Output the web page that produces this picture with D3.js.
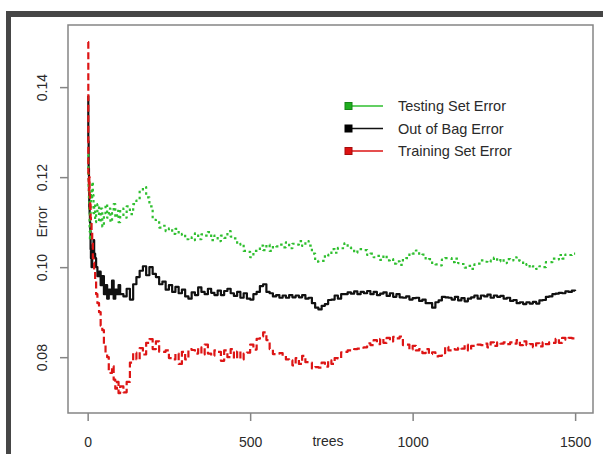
<!DOCTYPE html>
<html>
<head>
<meta charset="utf-8">
<script src="https://cdn.jsdelivr.net/npm/d3@7/dist/d3.min.js"></script>
<style>
  html, body { margin: 0; padding: 0; background: #fff; }
  svg { display: block; }
  text { font-family: "Liberation Sans", Arial, sans-serif; fill: #2a2a2a; }
</style>
</head>
<body>
<svg id="chart" width="603" height="454"></svg>
<script>
// ---- data ----
const treesEarly = [1,2,3,4,5,6,7,8,9,10,12,14,16,18,20,23,26,30,35,40,45,50,55,60,65,70,75,80,85,90,95,100];
const treesLate = d3.range(110, 1501, 10);
const trees = treesEarly.concat(treesLate);

const xTicks = [0, 500, 1000, 1500];
const yTicks = [0.08, 0.10, 0.12, 0.14];
const yTickLabels = ["0.08", "0.10", "0.12", "0.14"];
const seriesNames = ["Testing Set Error", "Out of Bag Error", "Training Set Error"];

const oobError = [
  0.138,0.128,0.122,0.117,0.113,0.112,0.110,0.108,0.104,0.102,0.100,0.103,0.105,0.106,0.103,0.102,0.100,0.098,0.099,0.096,0.098,0.094,0.096,0.093,0.095,0.094,0.097,0.093,0.095,0.094,0.096,0.094,
  0.0935,0.0952,0.0928,0.0962,0.0978,0.0992,0.1002,0.0982,0.1000,0.0985,
  0.0978,0.0962,0.0968,0.0950,0.0960,0.0945,0.0956,0.0942,0.0950,0.0935,
  0.0930,0.0944,0.0938,0.0955,0.0945,0.0940,0.0952,0.0943,0.0938,0.0948,
  0.0938,0.0947,0.0952,0.0942,0.0936,0.0945,0.0932,0.0942,0.0930,0.0928,
  0.0940,0.0945,0.0958,0.0962,0.0945,0.0942,0.0935,0.0938,0.0932,0.0937,
  0.0932,0.0938,0.0933,0.0937,0.0933,0.0938,0.0930,0.0932,0.0920,0.0910,
  0.0906,0.0914,0.0918,0.0927,0.0928,0.0937,0.0930,0.0940,0.0940,0.0944,
  0.0941,0.0946,0.0940,0.0945,0.0942,0.0947,0.0940,0.0945,0.0938,0.0941,
  0.0944,0.0936,0.0942,0.0934,0.0940,0.0933,0.0932,0.0935,0.0928,0.0931,
  0.0932,0.0925,0.0928,0.0920,0.0920,0.0910,0.0922,0.0926,0.0934,0.0933,
  0.0932,0.0928,0.0934,0.0926,0.0931,0.0924,0.0930,0.0933,0.0937,0.0930,
  0.0937,0.0935,0.0939,0.0932,0.0937,0.0934,0.0936,0.0930,0.0932,0.0925,
  0.0927,0.0920,0.0922,0.0918,0.0922,0.0919,0.0923,0.0919,0.0926,0.0927,
  0.0934,0.0935,0.0940,0.0941,0.0943,0.0942,0.0946,0.0945,0.0948,0.0947
];

const testError = [
  0.125,0.120,0.118,0.115,0.112,0.108,0.106,0.110,0.114,0.117,0.115,0.119,0.116,0.112,0.114,0.110,0.112,0.114,0.110,0.113,0.109,0.112,0.114,0.111,0.113,0.110,0.112,0.114,0.111,0.1125,0.110,0.113,
  0.1110,0.1135,0.1118,0.1140,0.1148,0.1170,0.1178,0.1155,0.1135,0.1105,
  0.1102,0.1088,0.1092,0.1080,0.1086,0.1074,0.1085,0.1072,0.1074,0.1062,
  0.1066,0.1060,0.1075,0.1062,0.1073,0.1070,0.1078,0.1060,0.1070,0.1058,
  0.1070,0.1065,0.1080,0.1068,0.1064,0.1050,0.1052,0.1036,0.1034,0.1022,
  0.1036,0.1036,0.1048,0.1038,0.1050,0.1036,0.1047,0.1046,0.1050,0.1044,
  0.1055,0.1042,0.1052,0.1050,0.1058,0.1047,0.1058,0.1048,0.1030,0.1012,
  0.1014,0.1014,0.1028,0.1026,0.1040,0.1032,0.1043,0.1042,0.1053,0.1044,
  0.1042,0.1032,0.1040,0.1040,0.1038,0.1027,0.1030,0.1022,0.1025,0.1016,
  0.1026,0.1015,0.1018,0.1008,0.1013,0.1005,0.1018,0.1020,0.1031,0.1030,
  0.1037,0.1027,0.1028,0.1017,0.1018,0.1007,0.1006,0.1004,0.1017,0.1020,
  0.1020,0.1011,0.1019,0.1009,0.1007,0.0999,0.1003,0.0996,0.1006,0.1008,
  0.1015,0.1012,0.1015,0.1013,0.1021,0.1013,0.1018,0.1009,0.1018,0.1015,
  0.1022,0.1015,0.1014,0.1005,0.1007,0.0999,0.1002,0.0996,0.1002,0.1000,
  0.1011,0.1011,0.1019,0.1017,0.1027,0.1019,0.1028,0.1027,0.1030,0.1030
];

const trainError = [
  0.150,0.121,0.119,0.117,0.120,0.116,0.113,0.114,0.111,0.110,0.108,0.106,0.102,0.101,0.099,0.097,0.094,0.092,0.090,0.087,0.086,0.083,0.081,0.080,0.077,0.0765,0.078,0.075,0.073,0.0745,0.072,0.0735,
  0.0722,0.0745,0.0788,0.0810,0.0795,0.0820,0.0806,0.0832,0.0840,0.0818,
  0.0835,0.0812,0.0812,0.0815,0.0798,0.0795,0.0808,0.0785,0.0812,0.0795,
  0.0818,0.0816,0.0808,0.0822,0.0806,0.0828,0.0808,0.0803,0.0815,0.0812,
  0.0792,0.0815,0.0800,0.0818,0.0797,0.0813,0.0795,0.0808,0.0810,0.0828,
  0.0817,0.0841,0.0846,0.0855,0.0838,0.0818,0.0807,0.0808,0.0809,0.0803,
  0.0795,0.0793,0.0782,0.0798,0.0785,0.0803,0.0789,0.0788,0.0775,0.0778,
  0.0777,0.0788,0.0779,0.0793,0.0785,0.0798,0.0797,0.0811,0.0812,0.0815,
  0.0815,0.0818,0.0819,0.0821,0.0822,0.0831,0.0827,0.0838,0.0829,0.0841,
  0.0832,0.0843,0.0835,0.0845,0.0842,0.0846,0.0827,0.0828,0.0817,0.0825,
  0.0815,0.0818,0.0809,0.0818,0.0807,0.0811,0.0802,0.0803,0.0809,0.0823,
  0.0815,0.0818,0.0817,0.0821,0.0819,0.0828,0.0815,0.0825,0.0825,0.0828,
  0.0827,0.0830,0.0822,0.0833,0.0825,0.0833,0.0830,0.0833,0.0829,0.0833,
  0.0830,0.0838,0.0827,0.0835,0.0827,0.0829,0.0822,0.0831,0.0824,0.0833,
  0.0829,0.0833,0.0832,0.0841,0.0832,0.0843,0.0839,0.0843,0.0842,0.0846
];

// ---- drawing ----
const svg = d3.select("#chart");

// screenshot frame
svg.append("rect").attr("x", 6).attr("y", 11).attr("width", 597).attr("height", 6).attr("fill", "#464646");
svg.append("rect").attr("x", 6).attr("y", 11).attr("width", 5).attr("height", 443).attr("fill", "#464646");

const plot = { left: 68, right: 593, top: 25, bottom: 413 };
const x = d3.scaleLinear().domain([-60.5, 1555]).range([plot.left, plot.right]);
const y = d3.scaleLinear().domain([0.0676, 0.1538]).range([plot.bottom, plot.top]);

svg.append("clipPath").attr("id", "clip")
  .append("rect").attr("x", plot.left).attr("y", plot.top)
  .attr("width", plot.right - plot.left).attr("height", plot.bottom - plot.top);

const line = (vals) => d3.line()
  .x((d, i) => x(trees[i]))
  .y(d => y(d))
  .curve(d3.curveStepAfter)(vals);

const series = [
  { name: seriesNames[1], vals: oobError, color: "#111111", dash: null },
  { name: seriesNames[0], vals: testError, color: "#2fbf2f", dash: "2.5,3.5" },
  { name: seriesNames[2], vals: trainError, color: "#dd1515", dash: "7,3.5" }
];

const g = svg.append("g").attr("clip-path", "url(#clip)");
series.forEach(s => {
  g.append("path")
    .attr("d", line(s.vals))
    .attr("fill", "none")
    .attr("stroke", s.color)
    .attr("stroke-width", 2.2)
    .attr("stroke-linejoin", "round")
    .attr("stroke-dasharray", s.dash);
});

// box
svg.append("rect")
  .attr("x", plot.left).attr("y", plot.top)
  .attr("width", plot.right - plot.left).attr("height", plot.bottom - plot.top)
  .attr("fill", "none").attr("stroke", "#858585").attr("stroke-width", 1.5);

// x axis
const xAxis = svg.append("g").attr("transform", `translate(0,${plot.bottom})`)
  .call(d3.axisBottom(x).tickValues(xTicks).tickSize(8).tickPadding(16).tickFormat(d3.format("d")));
xAxis.select(".domain").remove();
xAxis.selectAll(".tick line").attr("stroke", "#858585").attr("stroke-width", 1.5);
xAxis.selectAll(".tick text").attr("font-size", 14).attr("font-family", "Liberation Sans, Arial, sans-serif").attr("fill", "#2a2a2a");

// y axis
const yAxis = svg.append("g").attr("transform", `translate(${plot.left},0)`)
  .call(d3.axisLeft(y).tickValues(yTicks).tickSize(8).tickFormat((d, i) => yTickLabels[i]));
yAxis.select(".domain").remove();
yAxis.selectAll(".tick line").attr("stroke", "#858585").attr("stroke-width", 1.5);
yAxis.selectAll(".tick text")
  .attr("x", 0).attr("y", 0).attr("dy", "0.35em")
  .attr("transform", "translate(-26,0) rotate(-90)")
  .attr("text-anchor", "middle")
  .attr("font-size", 14).attr("font-family", "Liberation Sans, Arial, sans-serif").attr("fill", "#2a2a2a");

// axis titles
svg.append("text").attr("x", 328).attr("y", 441).attr("dy", "0.35em")
  .attr("text-anchor", "middle").attr("font-size", 14).text("trees");
svg.append("text").attr("transform", "translate(42,222) rotate(-90)").attr("dy", "0.35em")
  .attr("text-anchor", "middle").attr("font-size", 14).text("Error");

// legend
const legendRows = [
  { name: seriesNames[0], color: "#2fbf2f", fill: "#1fae1f" },
  { name: seriesNames[1], color: "#111111", fill: "#000000" },
  { name: seriesNames[2], color: "#dd1515", fill: "#dd1111" }
];
const ly = [106, 128.5, 151];
const leg = svg.append("g");
legendRows.forEach((r, i) => {
  leg.append("line").attr("x1", 349).attr("x2", 383).attr("y1", ly[i]).attr("y2", ly[i])
    .attr("stroke", r.color).attr("stroke-width", 1.6);
  leg.append("rect").attr("x", 345).attr("y", ly[i] - 3.5).attr("width", 7).attr("height", 7)
    .attr("fill", r.fill).attr("stroke", d3.color(r.fill).darker(0.8)).attr("stroke-width", 1);
  leg.append("text").attr("x", 398).attr("y", ly[i]).attr("dy", "0.35em")
    .attr("font-size", 14.5).text(r.name);
});
</script>
</body>
</html>
